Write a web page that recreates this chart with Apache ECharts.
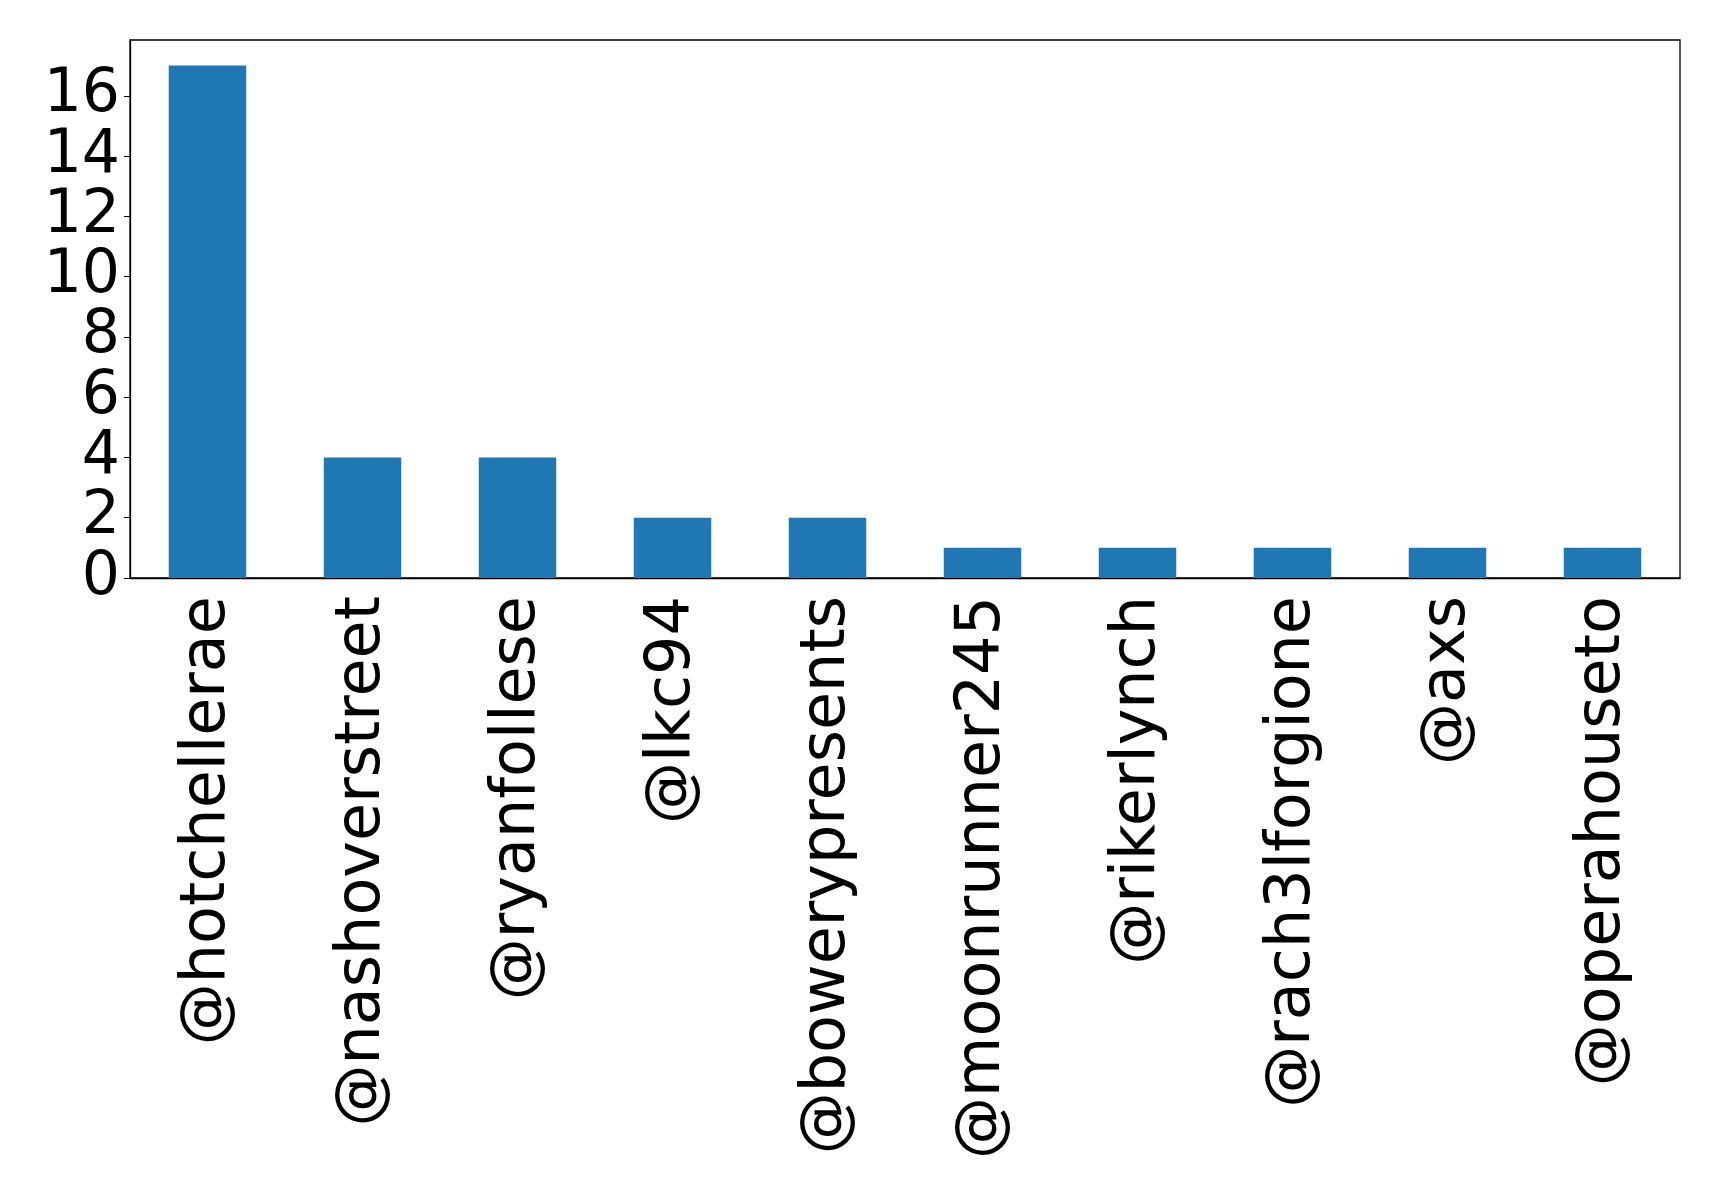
<!DOCTYPE html>
<html>
<head>
<meta charset="utf-8">
<script src="https://cdn.jsdelivr.net/npm/echarts@6/dist/echarts.min.js"></script>
<style>
  html, body { margin: 0; padding: 0; background: #fff; }
  #chart { width: 1719px; height: 1195px; }
</style>
</head>
<body>
<div id="chart"></div>
<script>
// 账号名和对应次数
const accounts = ['@hotchellerae', '@nashoverstreet', '@ryanfollese', '@lkc94', '@bowerypresents',
  '@moonrunner245', '@rikerlynch', '@rach3lforgione', '@axs', '@operahouseto']
const counts = [17, 4, 4, 2, 2, 1, 1, 1, 1, 1]
const yTicks = [0, 2, 4, 6, 8, 10, 12, 14, 16]

const chart = echarts.init(document.getElementById('chart'))
chart.setOption({
  animation: false,
  grid: {
    left: 130, top: 40, right: 39, bottom: 617,
    show: true, borderColor: '#000', borderWidth: 1.3, backgroundColor: 'transparent'
  },
  xAxis: {
    type: 'category',
    data: accounts,
    axisLine: { lineStyle: { color: '#000', width: 1.3 } },
    axisTick: { alignWithLabel: true, length: 6, lineStyle: { color: '#000' } },
    axisLabel: {
      rotate: 90, interval: 0, margin: 18,
      fontFamily: 'DejaVu Sans', fontSize: 62, color: '#000'
    }
  },
  yAxis: {
    type: 'value',
    min: 0,
    max: 17.85,
    interval: 2,
    splitLine: { show: false },
    axisLine: { show: true, lineStyle: { color: '#000', width: 1.3 } },
    axisTick: { show: true, length: 6, lineStyle: { color: '#000' } },
    axisLabel: {
      margin: 10, showMaxLabel: false,
      fontFamily: 'DejaVu Sans', fontSize: 60, color: '#000',
      formatter: v => yTicks.indexOf(v) >= 0 ? String(v) : ''
    }
  },
  series: [{
    type: 'bar',
    data: counts,
    barWidth: '50%',
    itemStyle: { color: '#1f77b4' }
  }]
})
</script>
</body>
</html>
